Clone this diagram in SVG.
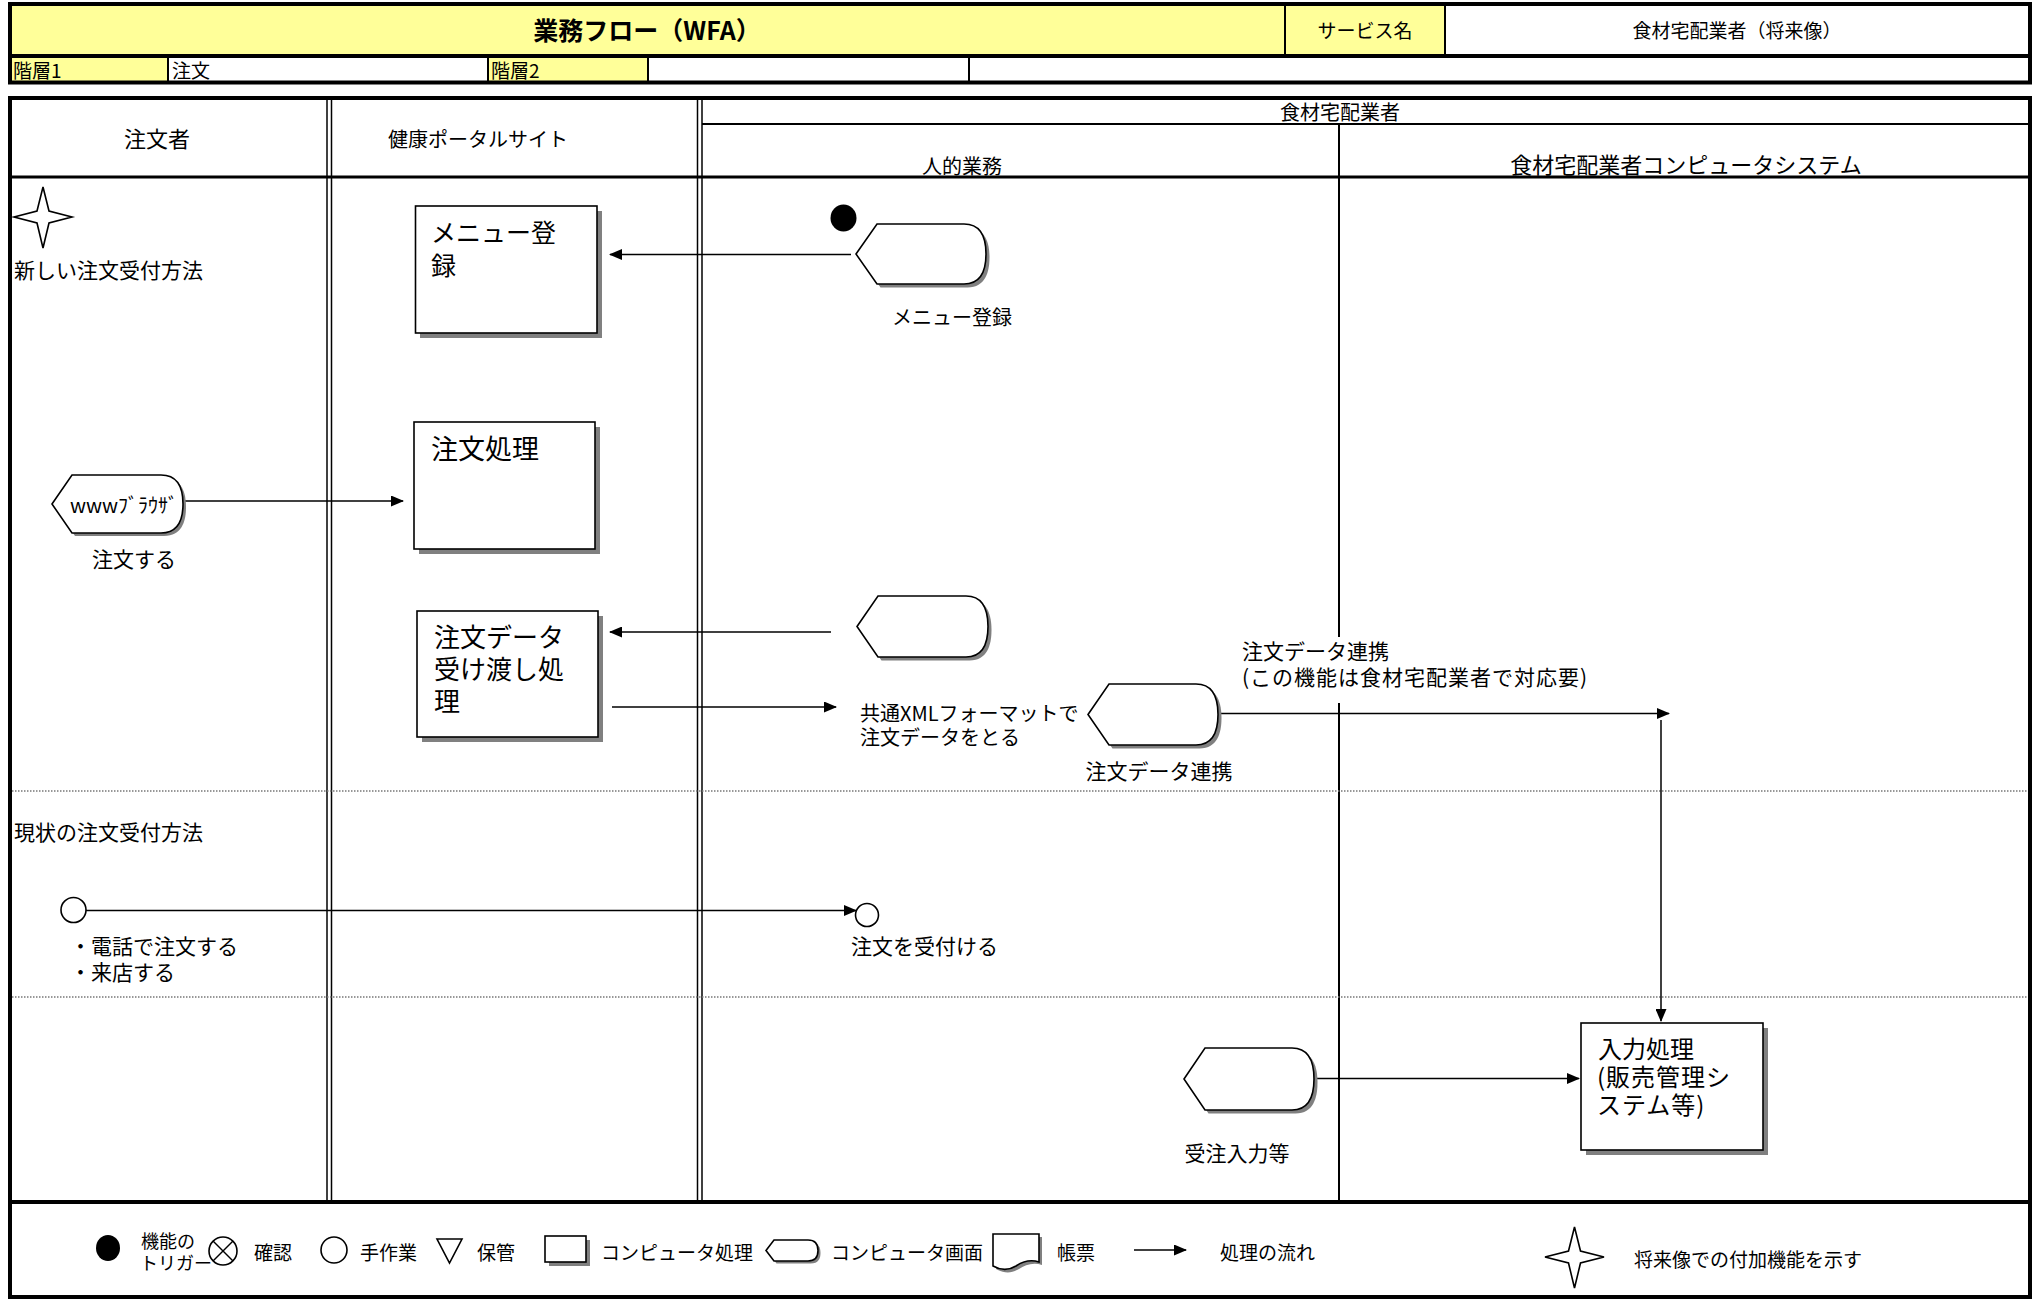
<svg xmlns="http://www.w3.org/2000/svg" width="2036" height="1301" viewBox="0 0 2036 1301">
<style>
text{font-family:"Noto Sans CJK JP","Noto Sans",sans-serif;fill:#000;dominant-baseline:central}
.thick{stroke:#000;stroke-width:4;fill:none}
.thin{stroke:#000;stroke-width:1.5;fill:none}
.mid{stroke:#000;stroke-width:2;fill:none}
.dot{stroke:#777;stroke-width:1.5;stroke-dasharray:1.5 1.5;fill:none}
.yel{fill:#FFFF99}
.shd{fill:#808080;stroke:none}
.shape{fill:#fff;stroke:#000;stroke-width:1.6}
.con{stroke:#000;stroke-width:1.5;fill:none;marker-end:url(#arr)}
.c{text-anchor:middle}
.f19{font-size:19px}
.f20{font-size:20px}
.f21{font-size:21px}
.f22{font-size:22px}
</style>
<defs>
<marker id="arr" markerWidth="13" markerHeight="11" refX="12" refY="5.5" orient="auto" markerUnits="userSpaceOnUse">
<path d="M0,0 L13,5.5 L0,11 Z" fill="#000"/>
</marker>
</defs>

<!-- Title block -->
<g id="title-block">
<rect class="yel" x="10" y="4" width="1275" height="52"/>
<rect class="yel" x="1285" y="4" width="160" height="52"/>
<rect fill="#fff" x="1445" y="4" width="585" height="52"/>
<rect class="yel" x="10" y="56" width="158" height="26.5"/>
<rect fill="#fff" x="168" y="56" width="320" height="26.5"/>
<rect class="yel" x="488" y="56" width="160" height="26.5"/>
<rect fill="#fff" x="648" y="56" width="1382" height="26.5"/>
<rect class="thick" x="10" y="4" width="2020" height="78.5"/>
<line class="thick" x1="10" y1="56" x2="2030" y2="56"/>
<line class="mid" x1="1285" y1="4" x2="1285" y2="56"/>
<line class="mid" x1="1445" y1="4" x2="1445" y2="56"/>
<line class="mid" x1="168" y1="56" x2="168" y2="82"/>
<line class="mid" x1="488" y1="56" x2="488" y2="82"/>
<line class="mid" x1="648" y1="56" x2="648" y2="82"/>
<line class="mid" x1="969" y1="56" x2="969" y2="82"/>
<text class="c" x="647" y="29" font-size="25" font-weight="bold">業務フロー（WFA）</text>
<text class="c f19" x="1365" y="29">サービス名</text>
<text class="c f19" x="1737" y="29">食材宅配業者（将来像）</text>
<text class="f19" x="13" y="69">階層1</text>
<text class="f19" x="172" y="69">注文</text>
<text class="f19" x="491" y="69">階層2</text>
</g>

<!-- Swimlane frame -->
<g id="lanes">
<rect class="thick" x="10" y="98" width="2020" height="1199"/>
<line class="thick" x1="10" y1="1202" x2="2030" y2="1202"/>
<line stroke="#000" stroke-width="3" x1="10" y1="177" x2="2030" y2="177"/>
<line class="mid" x1="702" y1="124" x2="2030" y2="124"/>
<line class="thin" x1="327" y1="98" x2="327" y2="1202"/>
<line class="thin" x1="331.5" y1="98" x2="331.5" y2="1202"/>
<line class="thin" x1="697.5" y1="98" x2="697.5" y2="1202"/>
<line class="thin" x1="702" y1="98" x2="702" y2="1202"/>
<line class="mid" x1="1339" y1="124" x2="1339" y2="637"/>
<line class="mid" x1="1339" y1="703" x2="1339" y2="1202"/>
<line class="dot" x1="12" y1="791" x2="2028" y2="791"/>
<line class="dot" x1="12" y1="997" x2="2028" y2="997"/>
<text class="c f22" x="157" y="137">注文者</text>
<text class="c f20" x="478" y="138">健康ポータルサイト</text>
<text class="c f20" x="1340" y="111">食材宅配業者</text>
<text class="c f20" x="962" y="165">人的業務</text>
<text class="c f22" x="1686" y="163">食材宅配業者コンピュータシステム</text>
<text class="f21" x="14" y="269">新しい注文受付方法</text>
<text class="f21" x="14" y="831">現状の注文受付方法</text>
</g>

<!-- Connectors -->
<g id="connectors">
<line class="con" x1="851" y1="254.5" x2="610" y2="254.5"/>
<line class="con" x1="184" y1="501" x2="403" y2="501"/>
<line class="con" x1="831" y1="632" x2="610" y2="632"/>
<line class="con" x1="612" y1="707" x2="836" y2="707"/>
<line class="con" x1="1219" y1="713.5" x2="1669" y2="713.5"/>
<line class="con" x1="1661" y1="720" x2="1661" y2="1021"/>
<line class="con" x1="86" y1="910.5" x2="856" y2="910.5"/>
<line class="con" x1="1315" y1="1078.5" x2="1579" y2="1078.5"/>
</g>

<!-- Nodes -->
<g id="star-new">
<path class="shape" stroke-width="1.3" d="M43,187 L49,211 L72,217 L49,223 L43,248 L37,223 L14,217 L37,211 Z"/>
</g>

<g id="trigger-dot">
<ellipse cx="843.5" cy="218" rx="13" ry="13.5" fill="#000"/>
</g>

<g id="screen-menu">
<path class="shd" transform="translate(3.5,3.5)" d="M856,254 L877,224 L964,224 C982,224 986,240 986,254 C986,268 982,284 964,284 L877,284 Z"/>
<path class="shape" d="M856,254 L877,224 L964,224 C982,224 986,240 986,254 C986,268 982,284 964,284 L877,284 Z"/>
<text class="c f20" x="952" y="316">メニュー登録</text>
</g>

<g id="proc-menu">
<rect class="shd" x="420" y="211" width="182" height="127"/>
<rect class="shape" x="415.5" y="206" width="181.5" height="127"/>
<text font-size="25" x="431" y="231">メニュー登<tspan x="431" dy="33">録</tspan></text>
</g>

<g id="proc-order">
<rect class="shd" x="419" y="427" width="181" height="127"/>
<rect class="shape" x="414" y="422" width="181" height="127"/>
<text font-size="27" x="431" y="447">注文処理</text>
</g>

<g id="screen-browser">
<path class="shd" transform="translate(3,3)" d="M52,504 L72,475 L161,475 C179,475 183,490 183,504 C183,518 179,533 161,533 L72,533 Z"/>
<path class="shape" d="M52,504 L72,475 L161,475 C179,475 183,490 183,504 C183,518 179,533 161,533 L72,533 Z"/>
<text class="c" font-size="20" x="124" y="504">wwwﾌﾞﾗｳｻﾞ</text>
<text class="c f21" x="134" y="558">注文する</text>
</g>

<g id="proc-handover">
<rect class="shd" x="422" y="616" width="181" height="126"/>
<rect class="shape" x="417" y="611" width="181" height="126"/>
<text font-size="26" x="434" y="635">注文データ<tspan x="434" dy="32">受け渡し処</tspan><tspan x="434" dy="32">理</tspan></text>
</g>

<g id="screen-empty">
<path class="shd" transform="translate(3.5,3.5)" d="M857,626.5 L878,596 L966,596 C984,596 988,612 988,626.5 C988,641 984,657 966,657 L878,657 Z"/>
<path class="shape" d="M857,626.5 L878,596 L966,596 C984,596 988,612 988,626.5 C988,641 984,657 966,657 L878,657 Z"/>
</g>

<g id="note-xml">
<text class="f20" x="860" y="712">共通XMLフォーマットで<tspan x="860" dy="24">注文データをとる</tspan></text>
</g>

<g id="screen-link">
<path class="shd" transform="translate(3.5,3.5)" d="M1088,714.5 L1109,684 L1196,684 C1214,684 1218,700 1218,714.5 C1218,729 1214,745 1196,745 L1109,745 Z"/>
<path class="shape" d="M1088,714.5 L1109,684 L1196,684 C1214,684 1218,700 1218,714.5 C1218,729 1214,745 1196,745 L1109,745 Z"/>
<text class="c f21" x="1159" y="770">注文データ連携</text>
</g>

<g id="note-link">
<text class="f21" x="1242" y="650">注文データ連携<tspan x="1242" dy="26" letter-spacing="1">(この機能は食材宅配業者で対応要)</tspan></text>
</g>

<g id="manual-customer">
<circle class="shape" cx="73.5" cy="910" r="12.5"/>
<text class="f21" x="70" y="945">・電話で注文する<tspan x="70" dy="26">・来店する</tspan></text>
</g>

<g id="manual-receive">
<circle class="shape" cx="867" cy="915" r="11.5"/>
<text class="f21" x="851" y="945">注文を受付ける</text>
</g>

<g id="screen-entry">
<path class="shd" transform="translate(3.5,3.5)" d="M1184,1079 L1205,1048 L1292,1048 C1310,1048 1314,1064 1314,1079 C1314,1094 1310,1110 1292,1110 L1205,1110 Z"/>
<path class="shape" d="M1184,1079 L1205,1048 L1292,1048 C1310,1048 1314,1064 1314,1079 C1314,1094 1310,1110 1292,1110 L1205,1110 Z"/>
<text class="c f21" x="1237" y="1152">受注入力等</text>
</g>

<g id="proc-input">
<rect class="shd" x="1586" y="1028" width="182" height="127"/>
<rect class="shape" x="1581" y="1023" width="182" height="127"/>
<text font-size="24" x="1598" y="1047">入力処理<tspan x="1597" dy="28" letter-spacing="1">(販売管理シ</tspan><tspan x="1597" dy="28" letter-spacing="1">ステム等)</tspan></text>
</g>

<!-- Legend -->
<g id="legend">
<ellipse cx="108" cy="1248" rx="12" ry="13" fill="#000"/>
<text x="141" y="1240" font-size="18">機能の<tspan x="140" dy="22">トリガー</tspan></text>
<circle class="shape" cx="223" cy="1251" r="14"/>
<line class="thin" x1="213" y1="1241" x2="233" y2="1261"/>
<line class="thin" x1="233" y1="1241" x2="213" y2="1261"/>
<text class="f19" x="254" y="1251">確認</text>
<circle class="shape" cx="334" cy="1250" r="13"/>
<text class="f19" x="360" y="1251">手作業</text>
<path class="shape" d="M437,1239 L462,1239 L449.5,1263 Z"/>
<text class="f19" x="477" y="1251">保管</text>
<rect class="shd" x="549" y="1240" width="41" height="26"/>
<rect class="shape" x="545" y="1236" width="41" height="26"/>
<text class="f19" x="601" y="1251">コンピュータ処理</text>
<path class="shd" transform="translate(2.5,2.5)" d="M766,1250.5 L774,1240 L808,1240 C816,1240 818,1245 818,1250.5 C818,1256 816,1261 808,1261 L774,1261 Z"/>
<path class="shape" d="M766,1250.5 L774,1240 L808,1240 C816,1240 818,1245 818,1250.5 C818,1256 816,1261 808,1261 L774,1261 Z"/>
<text class="f19" x="831" y="1251">コンピュータ画面</text>
<path class="shd" transform="translate(3,3)" d="M993,1234 H1039 V1262 C1030,1259 1022,1262 1016,1266 C1008,1271 1000,1270 993,1266 Z"/>
<path class="shape" d="M993,1234 H1039 V1262 C1030,1259 1022,1262 1016,1266 C1008,1271 1000,1270 993,1266 Z"/>
<text class="f19" x="1057" y="1251">帳票</text>
<line class="con" x1="1134" y1="1250" x2="1186" y2="1250"/>
<text class="f19" x="1220" y="1251">処理の流れ</text>
<path class="shape" stroke-width="1.3" d="M1574.5,1227 L1580.5,1251 L1604,1257 L1580.5,1263 L1574.5,1288 L1568.5,1263 L1545,1257 L1568.5,1251 Z"/>
<text class="f19" x="1634" y="1258">将来像での付加機能を示す</text>
</g>
</svg>
